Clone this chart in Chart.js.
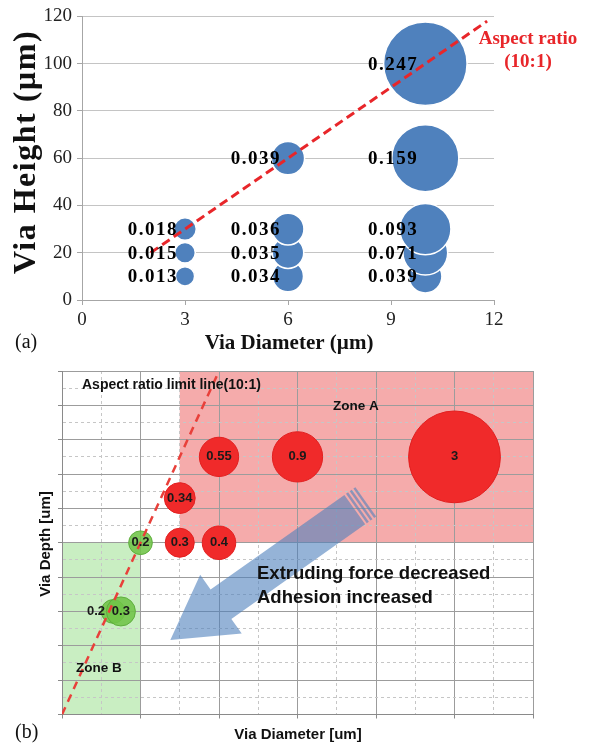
<!DOCTYPE html>
<html>
<head>
<meta charset="utf-8">
<script src="https://cdn.jsdelivr.net/npm/chart.js@4.4.1/dist/chart.umd.min.js"></script>
<style>
  html, body { margin: 0; padding: 0; background: #fff; }
  #wrapA { position: absolute; left: 0; top: 0; width: 598px; height: 360px; }
  #wrapB { position: absolute; left: 0; top: 360px; width: 598px; height: 389px; }
</style>
</head>
<body>
<div id="wrapA"><canvas id="chartA" width="598" height="360"></canvas></div>
<div id="wrapB"><canvas id="chartB" width="598" height="389"></canvas></div>
<script>
/*
  Via fill charts: (a) extrusion force bubbles, (b) zone map
*/

// ---- (a) data ----
const viaDiameterA = [3, 3, 3, 6, 6, 6, 6, 10, 10, 10, 10, 10];
const viaHeightA   = [10, 20, 30, 10, 20, 30, 60, 10, 20, 30, 60, 100];
const forceA       = [0.013, 0.015, 0.018, 0.034, 0.035, 0.036, 0.039, 0.039, 0.071, 0.093, 0.159, 0.247];
const ratioLineA   = [{ x: 2, y: 20 }, { x: 11.8, y: 118 }];
const xTicksA = [0, 3, 6, 9, 12];
const yTicksA = [0, 20, 40, 60, 80, 100, 120];

// ---- (b) data ----
const viaDiameterB = [0.65, 0.75, 1, 1.5, 2, 1.5, 2, 3, 5];
const viaDepthB    = [3, 3, 5, 5, 5, 6.3, 7.5, 7.5, 7.5];
const valuesB      = [0.2, 0.3, 0.2, 0.3, 0.4, 0.34, 0.55, 0.9, 3];
const zoneOfB      = ['B', 'B', 'B', 'A', 'A', 'A', 'A', 'A', 'A'];
const labelSideB   = ['left', 'center', 'center', 'center', 'center', 'center', 'center', 'center', 'center'];
const ratioLineB   = [{ x: 0, y: 0 }, { x: 2, y: 10 }];
const zoneA = { x0: 1.5, x1: 6, y0: 5, y1: 10 };
const zoneB = { x0: 0, x1: 1, y0: 0, y1: 5 };
const arrowB = [{ x: 3.87, y: 6.19 }, { x: 1.38, y: 2.17 }];   // tail -> tip
const xTicksB = [0, 0.5, 1, 1.5, 2, 2.5, 3, 3.5, 4, 4.5, 5, 5.5, 6];
const yTicksB = [0, 0.5, 1, 1.5, 2, 2.5, 3, 3.5, 4, 4.5, 5, 5.5, 6, 6.5, 7, 7.5, 8, 8.5, 9, 9.5, 10];

const SERIF = '"Liberation Serif", "Times New Roman", serif';
const SANS = '"Liberation Sans", Arial, sans-serif';

// bubble area proportional to value
const radiusA = v => 84 * Math.sqrt(v);
const radiusB = v => 26.5 * Math.sqrt(v);

function putText(ctx, t) {
  ctx.save();
  ctx.font = t.font;
  ctx.fillStyle = t.color || '#111';
  ctx.textAlign = t.align || 'left';
  ctx.textBaseline = 'middle';
  if ('letterSpacing' in ctx) ctx.letterSpacing = (t.spacing || 0) + 'px';
  ctx.translate(t.x, t.y);
  if (t.rotate) ctx.rotate(t.rotate);
  ctx.fillText(t.text, 0, 0);
  ctx.restore();
}

function useTicks(list) {
  return scale => { scale.ticks = list.map(v => ({ value: v })); };
}

Chart.defaults.animation = false;
Chart.defaults.events = [];
Chart.defaults.plugins.legend.display = false;
Chart.defaults.plugins.tooltip.enabled = false;

// ================= chart (a) =================
const textsA = [
  { text: 'Via Height (\u00b5m)', x: 27, y: 152, rotate: -Math.PI / 2, font: 'bold 32px ' + SERIF, align: 'center', spacing: 1.5, color: '#111' },
  { text: 'Via Diameter (\u00b5m)', x: 289, y: 344, font: 'bold 21px ' + SERIF, align: 'center', color: '#111' },
  { text: '(a)', x: 15, y: 343, font: '20px ' + SERIF, color: '#111' },
  { text: 'Aspect ratio', x: 528, y: 39, font: 'bold 19px ' + SERIF, align: 'center', color: '#e8262a' },
  { text: '(10:1)', x: 528, y: 62, font: 'bold 19px ' + SERIF, align: 'center', color: '#e8262a' }
];

const labelsPluginA = {
  id: 'labelsA',
  afterDatasetsDraw(chart) {
    const ctx = chart.ctx;
    const meta = chart.getDatasetMeta(0);
    meta.data.forEach((pt, i) => {
      putText(ctx, {
        text: forceA[i].toFixed(3), x: pt.x - 7, y: pt.y + 1,
        font: 'bold 19px ' + SERIF, align: 'right', spacing: 1.5, color: '#000'
      });
    });
  },
  afterDraw(chart) {
    textsA.forEach(t => putText(chart.ctx, t));
  }
};

new Chart(document.getElementById('chartA'), {
  type: 'bubble',
  data: {
    datasets: [
      {
        data: viaDiameterA.map((x, i) => ({ x, y: viaHeightA[i], r: radiusA(forceA[i]) })),
        backgroundColor: '#4f81bd',
        borderColor: '#ffffff',
        borderWidth: 1.5,
        order: 1
      },
      {
        type: 'line',
        data: ratioLineA,
        borderColor: '#e8262a',
        borderWidth: 3,
        borderDash: [9, 5],
        pointRadius: 0,
        fill: false,
        order: 0
      }
    ]
  },
  options: {
    responsive: false,
    layout: { autoPadding: false, padding: { top: 13, right: 104, left: 0, bottom: 0 } },
    scales: {
      x: {
        type: 'linear', min: 0, max: 12,
        afterBuildTicks: useTicks(xTicksA),
        ticks: { font: { family: SERIF, size: 19 }, color: '#222', padding: 4 },
        grid: { drawOnChartArea: false, drawTicks: true, tickLength: 5, tickColor: '#a6a6a6' },
        border: { color: '#a6a6a6', width: 1 },
        afterFit(s) { s.height = 60; }
      },
      y: {
        type: 'linear', min: 0, max: 120,
        afterBuildTicks: useTicks(yTicksA),
        ticks: { font: { family: SERIF, size: 19 }, color: '#222', padding: 5 },
        grid: { color: '#c4c4c4', tickLength: 5, tickColor: '#a6a6a6' },
        border: { color: '#a6a6a6', width: 1 },
        afterFit(s) { s.width = 82; }
      }
    }
  },
  plugins: [labelsPluginA]
});

// ================= chart (b) =================
const textsB = [
  { text: 'Aspect ratio limit line(10:1)', x: 82, y: 25, font: 'bold 14px ' + SANS },
  { text: 'Zone A', x: 333, y: 46, font: 'bold 13.5px ' + SANS },
  { text: 'Zone B', x: 76, y: 308, font: 'bold 13.5px ' + SANS },
  { text: 'Extruding force decreased', x: 257, y: 214, font: 'bold 18.5px ' + SANS },
  { text: 'Adhesion increased', x: 257, y: 238, font: 'bold 18.5px ' + SANS },
  { text: 'Via Depth [um]', x: 46, y: 184, rotate: -Math.PI / 2, font: 'bold 15px ' + SANS, align: 'center' },
  { text: 'Via Diameter [um]', x: 298, y: 375, font: 'bold 15px ' + SANS, align: 'center' },
  { text: '(b)', x: 15, y: 373, font: '20px ' + SERIF }
];

function drawBlockArrow(ctx, x0, y0, x1, y1) {
  const L = Math.hypot(x1 - x0, y1 - y0);
  const ux = (x1 - x0) / L, uy = (y1 - y0) / L;
  const nx = -uy, ny = ux;
  const shaftW = 18, headW = 36, headL = 62;
  const P = (s, t) => [x0 + ux * s + nx * t, y0 + uy * s + ny * t];
  const poly = pts => {
    ctx.beginPath();
    pts.forEach((p, i) => (i ? ctx.lineTo(p[0], p[1]) : ctx.moveTo(p[0], p[1])));
    ctx.closePath();
    ctx.fill();
  };
  ctx.save();
  ctx.fillStyle = 'rgba(79, 129, 189, 0.6)';
  poly([P(13.5, -shaftW), P(L - headL, -shaftW), P(L - headL, -headW), P(L, 0),
        P(L - headL, headW), P(L - headL, shaftW), P(13.5, shaftW)]);
  // striped tail
  [[0, 2.5], [4.5, 7], [9, 11.5]].forEach(([a, b]) => {
    poly([P(a, -shaftW), P(b, -shaftW), P(b, shaftW), P(a, shaftW)]);
  });
  ctx.restore();
}

const zonesPluginB = {
  id: 'zonesB',
  beforeDraw(chart) {
    const { ctx, scales: { x, y } } = chart;
    const fillZone = (z, color) => {
      const left = x.getPixelForValue(z.x0), right = x.getPixelForValue(z.x1);
      const top = y.getPixelForValue(z.y1), bottom = y.getPixelForValue(z.y0);
      ctx.fillStyle = color;
      ctx.fillRect(left, top, right - left, bottom - top);
    };
    ctx.save();
    fillZone(zoneA, '#f5abab');
    fillZone(zoneB, '#c9eec2');
    ctx.restore();
  },
  afterDatasetsDraw(chart) {
    const { ctx, scales: { x, y } } = chart;
    const meta = chart.getDatasetMeta(0);
    meta.data.forEach((pt, i) => {
      const side = labelSideB[i];
      putText(ctx, {
        text: String(valuesB[i]),
        x: side === 'left' ? pt.x - 8 : pt.x,
        y: pt.y,
        font: 'bold 13px ' + SANS,
        align: side === 'left' ? 'right' : 'center',
        color: '#1a1a1a'
      });
    });
    drawBlockArrow(ctx,
      x.getPixelForValue(arrowB[0].x), y.getPixelForValue(arrowB[0].y),
      x.getPixelForValue(arrowB[1].x), y.getPixelForValue(arrowB[1].y));
  },
  afterDraw(chart) {
    textsB.forEach(t => putText(chart.ctx, t));
  }
};

const isMajor = c => c.tick && Math.abs(c.tick.value % 1) < 1e-9;
const gridB = {
  color: c => (isMajor(c) ? '#9c9c9c' : '#c6c6c6'),
  lineWidth: 1,
  tickLength: 4,
  tickColor: c => (isMajor(c) ? '#8a8a8a' : 'rgba(0,0,0,0)')
};
const borderB = {
  color: '#8a8a8a',
  width: 1,
  dash: c => (c.tick && !isMajor(c) ? [3, 3] : [])
};

new Chart(document.getElementById('chartB'), {
  type: 'bubble',
  data: {
    datasets: [
      {
        data: viaDiameterB.map((x, i) => ({ x, y: viaDepthB[i], r: radiusB(valuesB[i]) })),
        backgroundColor: zoneOfB.map(z => (z === 'A' ? 'rgb(240, 42, 42)' : 'rgba(112, 196, 72, 0.88)')),
        borderColor: zoneOfB.map(z => (z === 'A' ? 'rgb(226, 32, 32)' : 'rgba(92, 172, 58, 0.95)')),
        borderWidth: 1,
        order: 1
      },
      {
        type: 'line',
        data: ratioLineB,
        borderColor: '#e8403a',
        borderWidth: 2.5,
        borderDash: [8, 6],
        pointRadius: 0,
        fill: false,
        order: 0
      }
    ]
  },
  options: {
    responsive: false,
    layout: { autoPadding: false, padding: { top: 11, right: 65, left: 0, bottom: 0 } },
    scales: {
      x: {
        type: 'linear', min: 0, max: 6,
        afterBuildTicks: useTicks(xTicksB),
        ticks: { display: false },
        grid: gridB,
        border: borderB,
        afterFit(s) { s.height = 34.5; }
      },
      y: {
        type: 'linear', min: 0, max: 10,
        afterBuildTicks: useTicks(yTicksB),
        ticks: { display: false },
        grid: gridB,
        border: borderB,
        afterFit(s) { s.width = 62; }
      }
    }
  },
  plugins: [zonesPluginB]
});
</script>
</body>
</html>
